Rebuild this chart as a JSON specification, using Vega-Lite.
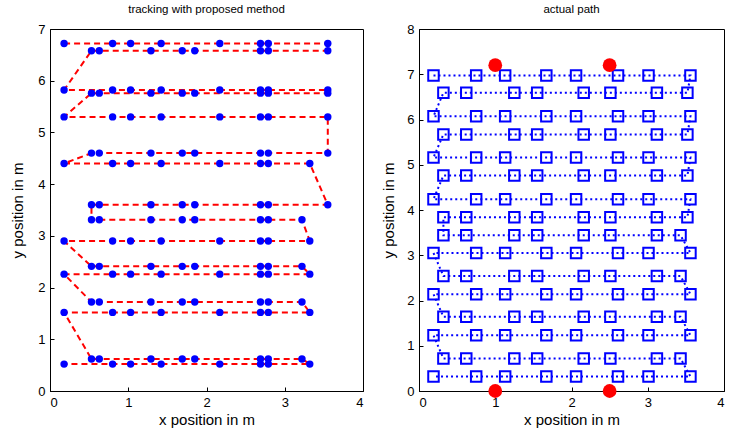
{
  "$schema": "https://vega.github.io/schema/vega-lite/v6.json",
  "padding": {"left": 10, "top": 3, "right": 0, "bottom": 0},
  "spacing": 17,
  "config": {
    "font": "Liberation Sans",
    "view": {"stroke": "black", "strokeWidth": 1},
    "axis": {"grid": false, "domainColor": "black", "tickColor": "black", "labelColor": "black", "titleColor": "black", "labelFontSize": 13, "titleFontSize": 15, "titleFontWeight": "normal", "tickSize": -4, "labelPadding": 9, "labelAngle": 0},
    "title": {"fontSize": 11.5, "fontWeight": "normal", "color": "black", "offset": 8}
  },
  "datasets": {
    "est": [
      {"x":0.18,"y":6.72,"o":1},{"x":0.80,"y":6.72,"o":2},{"x":1.03,"y":6.72,"o":3},{"x":1.42,"y":6.72,"o":4},{"x":2.17,"y":6.72,"o":5},{"x":2.69,"y":6.72,"o":6},{"x":2.79,"y":6.72,"o":7},{"x":3.55,"y":6.72,"o":8},
      {"x":3.55,"y":6.58,"o":9},{"x":2.79,"y":6.58,"o":10},{"x":2.69,"y":6.58,"o":11},{"x":1.85,"y":6.58,"o":12},{"x":1.69,"y":6.58,"o":13},{"x":1.29,"y":6.58,"o":14},{"x":0.63,"y":6.58,"o":15},{"x":0.53,"y":6.58,"o":16},
      {"x":0.18,"y":5.82,"o":17},{"x":0.80,"y":5.82,"o":18},{"x":1.03,"y":5.82,"o":19},{"x":1.42,"y":5.82,"o":20},{"x":2.17,"y":5.82,"o":21},{"x":2.69,"y":5.82,"o":22},{"x":2.79,"y":5.82,"o":23},{"x":3.55,"y":5.82,"o":24},
      {"x":3.55,"y":5.76,"o":25},{"x":2.79,"y":5.76,"o":26},{"x":2.69,"y":5.76,"o":27},{"x":1.85,"y":5.76,"o":28},{"x":1.69,"y":5.76,"o":29},{"x":1.29,"y":5.76,"o":30},{"x":0.63,"y":5.76,"o":31},{"x":0.53,"y":5.76,"o":32},
      {"x":0.18,"y":5.30,"o":33},{"x":0.80,"y":5.30,"o":34},{"x":1.03,"y":5.30,"o":35},{"x":1.42,"y":5.30,"o":36},{"x":2.17,"y":5.30,"o":37},{"x":2.69,"y":5.30,"o":38},{"x":2.79,"y":5.30,"o":39},{"x":3.55,"y":5.30,"o":40},
      {"x":3.55,"y":4.60,"o":41},{"x":2.79,"y":4.60,"o":42},{"x":2.69,"y":4.60,"o":43},{"x":1.85,"y":4.60,"o":44},{"x":1.69,"y":4.60,"o":45},{"x":1.29,"y":4.60,"o":46},{"x":0.63,"y":4.60,"o":47},{"x":0.53,"y":4.60,"o":48},
      {"x":0.18,"y":4.40,"o":49},{"x":0.80,"y":4.40,"o":50},{"x":1.03,"y":4.40,"o":51},{"x":1.42,"y":4.40,"o":52},{"x":2.17,"y":4.40,"o":53},{"x":2.69,"y":4.40,"o":54},{"x":2.79,"y":4.40,"o":55},{"x":3.32,"y":4.40,"o":56},
      {"x":3.55,"y":3.60,"o":57},{"x":2.79,"y":3.60,"o":58},{"x":2.69,"y":3.60,"o":59},{"x":1.85,"y":3.60,"o":60},{"x":1.69,"y":3.60,"o":61},{"x":1.29,"y":3.60,"o":62},{"x":0.63,"y":3.60,"o":63},{"x":0.53,"y":3.60,"o":64},
      {"x":0.53,"y":3.31,"o":65},{"x":0.63,"y":3.31,"o":66},{"x":1.29,"y":3.31,"o":67},{"x":1.69,"y":3.31,"o":68},{"x":1.85,"y":3.31,"o":69},{"x":2.69,"y":3.31,"o":70},{"x":2.79,"y":3.31,"o":71},{"x":3.22,"y":3.31,"o":72},
      {"x":3.32,"y":2.90,"o":73},{"x":2.79,"y":2.90,"o":74},{"x":2.69,"y":2.90,"o":75},{"x":2.17,"y":2.90,"o":76},{"x":1.42,"y":2.90,"o":77},{"x":1.03,"y":2.90,"o":78},{"x":0.80,"y":2.90,"o":79},{"x":0.18,"y":2.90,"o":80},
      {"x":0.53,"y":2.41,"o":81},{"x":0.63,"y":2.41,"o":82},{"x":1.29,"y":2.41,"o":83},{"x":1.69,"y":2.41,"o":84},{"x":1.85,"y":2.41,"o":85},{"x":2.69,"y":2.41,"o":86},{"x":2.79,"y":2.41,"o":87},{"x":3.22,"y":2.41,"o":88},
      {"x":3.32,"y":2.26,"o":89},{"x":2.79,"y":2.26,"o":90},{"x":2.69,"y":2.26,"o":91},{"x":2.17,"y":2.26,"o":92},{"x":1.42,"y":2.26,"o":93},{"x":1.03,"y":2.26,"o":94},{"x":0.80,"y":2.26,"o":95},{"x":0.18,"y":2.26,"o":96},
      {"x":0.53,"y":1.72,"o":97},{"x":0.63,"y":1.72,"o":98},{"x":1.29,"y":1.72,"o":99},{"x":1.69,"y":1.72,"o":100},{"x":1.85,"y":1.72,"o":101},{"x":2.69,"y":1.72,"o":102},{"x":2.79,"y":1.72,"o":103},{"x":3.22,"y":1.72,"o":104},
      {"x":3.32,"y":1.52,"o":105},{"x":2.79,"y":1.52,"o":106},{"x":2.69,"y":1.52,"o":107},{"x":2.17,"y":1.52,"o":108},{"x":1.42,"y":1.52,"o":109},{"x":1.03,"y":1.52,"o":110},{"x":0.80,"y":1.52,"o":111},{"x":0.18,"y":1.52,"o":112},
      {"x":0.53,"y":0.62,"o":113},{"x":0.63,"y":0.62,"o":114},{"x":1.29,"y":0.62,"o":115},{"x":1.69,"y":0.62,"o":116},{"x":1.85,"y":0.62,"o":117},{"x":2.69,"y":0.62,"o":118},{"x":2.79,"y":0.62,"o":119},{"x":3.22,"y":0.62,"o":120},
      {"x":3.32,"y":0.52,"o":121},{"x":2.79,"y":0.52,"o":122},{"x":2.69,"y":0.52,"o":123},{"x":2.17,"y":0.52,"o":124},{"x":1.42,"y":0.52,"o":125},{"x":1.03,"y":0.52,"o":126},{"x":0.80,"y":0.52,"o":127},{"x":0.18,"y":0.52,"o":128}
    ],
    "act": [
      {"x":0.19,"y":6.97,"o":1},{"x":0.75,"y":6.97,"o":2},{"x":1.13,"y":6.97,"o":3},{"x":1.67,"y":6.97,"o":4},{"x":2.06,"y":6.97,"o":5},{"x":2.61,"y":6.97,"o":6},{"x":3.01,"y":6.97,"o":7},{"x":3.56,"y":6.97,"o":8},
      {"x":3.52,"y":6.59,"o":9},{"x":3.12,"y":6.59,"o":10},{"x":2.51,"y":6.59,"o":11},{"x":2.16,"y":6.59,"o":12},{"x":1.55,"y":6.59,"o":13},{"x":1.25,"y":6.59,"o":14},{"x":0.62,"y":6.59,"o":15},{"x":0.32,"y":6.59,"o":16},
      {"x":0.19,"y":6.07,"o":17},{"x":0.75,"y":6.07,"o":18},{"x":1.13,"y":6.07,"o":19},{"x":1.67,"y":6.07,"o":20},{"x":2.06,"y":6.07,"o":21},{"x":2.61,"y":6.07,"o":22},{"x":3.01,"y":6.07,"o":23},{"x":3.56,"y":6.07,"o":24},
      {"x":3.52,"y":5.67,"o":25},{"x":3.12,"y":5.67,"o":26},{"x":2.51,"y":5.67,"o":27},{"x":2.16,"y":5.67,"o":28},{"x":1.55,"y":5.67,"o":29},{"x":1.25,"y":5.67,"o":30},{"x":0.62,"y":5.67,"o":31},{"x":0.32,"y":5.67,"o":32},
      {"x":0.19,"y":5.16,"o":33},{"x":0.75,"y":5.16,"o":34},{"x":1.13,"y":5.16,"o":35},{"x":1.67,"y":5.16,"o":36},{"x":2.06,"y":5.16,"o":37},{"x":2.61,"y":5.16,"o":38},{"x":3.01,"y":5.16,"o":39},{"x":3.56,"y":5.16,"o":40},
      {"x":3.52,"y":4.76,"o":41},{"x":3.12,"y":4.76,"o":42},{"x":2.51,"y":4.76,"o":43},{"x":2.16,"y":4.76,"o":44},{"x":1.55,"y":4.76,"o":45},{"x":1.25,"y":4.76,"o":46},{"x":0.62,"y":4.76,"o":47},{"x":0.32,"y":4.76,"o":48},
      {"x":0.19,"y":4.24,"o":49},{"x":0.75,"y":4.24,"o":50},{"x":1.13,"y":4.24,"o":51},{"x":1.67,"y":4.24,"o":52},{"x":2.06,"y":4.24,"o":53},{"x":2.61,"y":4.24,"o":54},{"x":3.01,"y":4.24,"o":55},{"x":3.56,"y":4.24,"o":56},
      {"x":3.52,"y":3.84,"o":57},{"x":3.12,"y":3.84,"o":58},{"x":2.51,"y":3.84,"o":59},{"x":2.16,"y":3.84,"o":60},{"x":1.55,"y":3.84,"o":61},{"x":1.25,"y":3.84,"o":62},{"x":0.62,"y":3.84,"o":63},{"x":0.32,"y":3.84,"o":64},
      {"x":0.32,"y":3.44,"o":65},{"x":0.62,"y":3.44,"o":66},{"x":1.25,"y":3.44,"o":67},{"x":1.55,"y":3.44,"o":68},{"x":2.16,"y":3.44,"o":69},{"x":2.51,"y":3.44,"o":70},{"x":3.12,"y":3.44,"o":71},{"x":3.43,"y":3.44,"o":72},
      {"x":3.56,"y":3.05,"o":73},{"x":3.01,"y":3.05,"o":74},{"x":2.61,"y":3.05,"o":75},{"x":2.06,"y":3.05,"o":76},{"x":1.67,"y":3.05,"o":77},{"x":1.13,"y":3.05,"o":78},{"x":0.75,"y":3.05,"o":79},{"x":0.19,"y":3.05,"o":80},
      {"x":0.32,"y":2.54,"o":81},{"x":0.62,"y":2.54,"o":82},{"x":1.25,"y":2.54,"o":83},{"x":1.55,"y":2.54,"o":84},{"x":2.16,"y":2.54,"o":85},{"x":2.51,"y":2.54,"o":86},{"x":3.12,"y":2.54,"o":87},{"x":3.43,"y":2.54,"o":88},
      {"x":3.56,"y":2.14,"o":89},{"x":3.01,"y":2.14,"o":90},{"x":2.61,"y":2.14,"o":91},{"x":2.06,"y":2.14,"o":92},{"x":1.67,"y":2.14,"o":93},{"x":1.13,"y":2.14,"o":94},{"x":0.75,"y":2.14,"o":95},{"x":0.19,"y":2.14,"o":96},
      {"x":0.32,"y":1.64,"o":97},{"x":0.62,"y":1.64,"o":98},{"x":1.25,"y":1.64,"o":99},{"x":1.55,"y":1.64,"o":100},{"x":2.16,"y":1.64,"o":101},{"x":2.51,"y":1.64,"o":102},{"x":3.12,"y":1.64,"o":103},{"x":3.43,"y":1.64,"o":104},
      {"x":3.56,"y":1.23,"o":105},{"x":3.01,"y":1.23,"o":106},{"x":2.61,"y":1.23,"o":107},{"x":2.06,"y":1.23,"o":108},{"x":1.67,"y":1.23,"o":109},{"x":1.13,"y":1.23,"o":110},{"x":0.75,"y":1.23,"o":111},{"x":0.19,"y":1.23,"o":112},
      {"x":0.32,"y":0.72,"o":113},{"x":0.62,"y":0.72,"o":114},{"x":1.25,"y":0.72,"o":115},{"x":1.55,"y":0.72,"o":116},{"x":2.16,"y":0.72,"o":117},{"x":2.51,"y":0.72,"o":118},{"x":3.12,"y":0.72,"o":119},{"x":3.43,"y":0.72,"o":120},
      {"x":3.56,"y":0.32,"o":121},{"x":3.01,"y":0.32,"o":122},{"x":2.61,"y":0.32,"o":123},{"x":2.06,"y":0.32,"o":124},{"x":1.67,"y":0.32,"o":125},{"x":1.13,"y":0.32,"o":126},{"x":0.75,"y":0.32,"o":127},{"x":0.19,"y":0.32,"o":128}
    ],
    "anchors": [
      {"x":1.0,"y":7.2},{"x":2.5,"y":7.2},{"x":1.0,"y":0.0},{"x":2.5,"y":0.0}
    ]
  },
  "hconcat": [
    {
      "width": 313,
      "height": 362,
      "title": "tracking with proposed method",
      "data": {"name": "est"},
      "encoding": {
        "x": {"field": "x", "type": "quantitative", "scale": {"domain": [0, 4], "nice": false}, "axis": {"values": [0,1,2,3,4], "title": "x position in m", "titlePadding": 3}},
        "y": {"field": "y", "type": "quantitative", "scale": {"domain": [0, 7], "nice": false}, "axis": {"values": [0,1,2,3,4,5,6,7], "title": "y position in m", "titlePadding": 12}}
      },
      "layer": [
        {
          "mark": {"type": "line", "color": "#ff0000", "strokeWidth": 2, "strokeDash": [6, 4]},
          "encoding": {"order": {"field": "o"}}
        },
        {
          "mark": {"type": "point", "shape": "circle", "filled": true, "color": "#0000ff", "size": 55, "opacity": 1},
          "encoding": {}
        }
      ]
    },
    {
      "width": 305,
      "height": 362,
      "title": "actual path",
      "encoding": {
        "x": {"field": "x", "type": "quantitative", "scale": {"domain": [0, 4], "nice": false}, "axis": {"values": [0,1,2,3,4], "title": "x position in m", "titlePadding": 3, "labelFlush": true}},
        "y": {"field": "y", "type": "quantitative", "scale": {"domain": [0, 8], "nice": false}, "axis": {"values": [0,1,2,3,4,5,6,7,8], "title": "y position in m", "titlePadding": 10}}
      },
      "layer": [
        {
          "data": {"name": "act"},
          "mark": {"type": "line", "color": "#0000ff", "strokeWidth": 2, "strokeDash": [2, 3]},
          "encoding": {"order": {"field": "o"}}
        },
        {
          "data": {"name": "act"},
          "mark": {"type": "point", "shape": "square", "filled": false, "color": "#0000ff", "size": 110, "strokeWidth": 2, "opacity": 1},
          "encoding": {}
        },
        {
          "data": {"name": "anchors"},
          "mark": {"type": "point", "shape": "circle", "filled": true, "color": "#ff0000", "size": 190, "opacity": 1, "clip": false},
          "encoding": {}
        }
      ]
    }
  ]
}
